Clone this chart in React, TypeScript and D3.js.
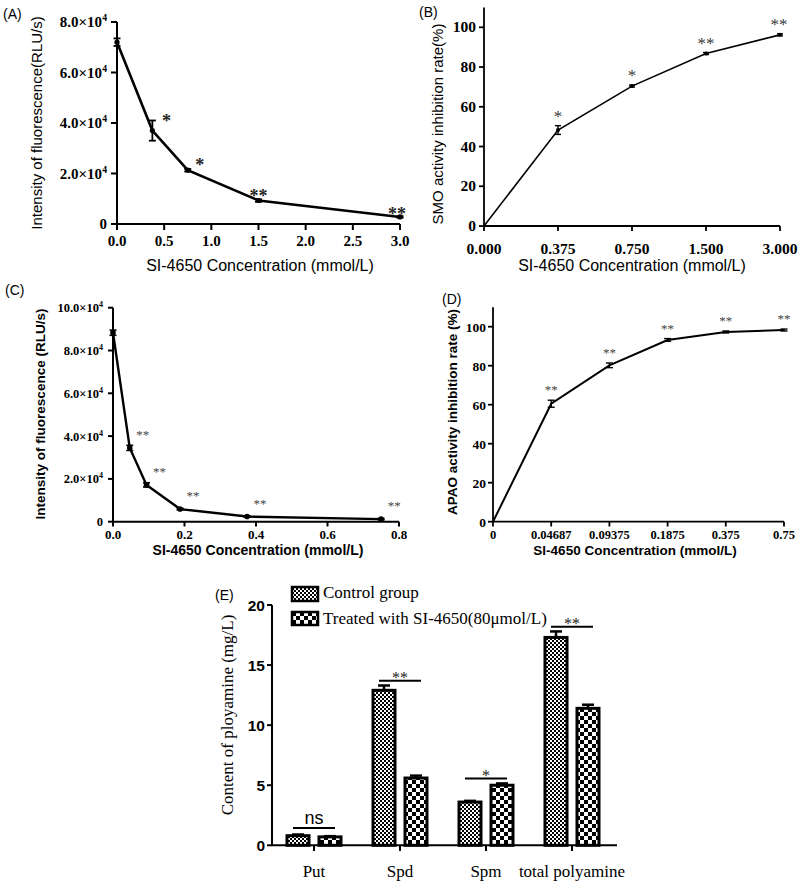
import React from "react";
import * as d3 from "d3";

// ---------- Data ----------
const concA = [0, 0.375, 0.75, 1.5, 3.0];
const fluorA = [72000, 37000, 21300, 9300, 2800];
const fluorAErr = [1500, 4000, 500, 500, 300];
const starsA = ["", "*", "*", "**", "**"];
const ticksAY = [0, 20000, 40000, 60000, 80000];
const ticksAX = [0, 0.5, 1.0, 1.5, 2.0, 2.5, 3.0];

const catsB = ["0.000", "0.375", "0.750", "1.500", "3.000"];
const inhibB = [0, 48.3, 70.4, 86.8, 96.2];
const inhibBErr = [0, 2.2, 0.5, 0.5, 0.5];
const starsB = ["", "*", "*", "**", "**"];
const ticksBY = [0, 20, 40, 60, 80, 100];

const concC = [0, 0.046875, 0.09375, 0.1875, 0.375, 0.75];
const fluorC = [88300, 34500, 17200, 5900, 2400, 1200];
const fluorCErr = [1200, 1200, 1000, 400, 300, 300];
const starsC = ["", "**", "**", "**", "**", "**"];
const ticksCY = [0, 20000, 40000, 60000, 80000, 100000];
const ticksCX = [0, 0.2, 0.4, 0.6, 0.8];

const catsD = ["0", "0.04687", "0.09375", "0.1875", "0.375", "0.75"];
const inhibD = [0, 60.5, 80.2, 93.2, 97.3, 98.3];
const inhibDErr = [0, 1.8, 1.2, 0.7, 0.5, 0.5];
const starsD = ["", "**", "**", "**", "**", "**"];
const ticksDY = [0, 20, 40, 60, 80, 100];

const groupsE = ["Put", "Spd", "Spm", "total polyamine"];
const controlE = [0.8, 12.9, 3.6, 17.3];
const controlEErr = [0.1, 0.4, 0.1, 0.5];
const treatedE = [0.7, 5.6, 5.0, 11.4];
const treatedEErr = [0.06, 0.2, 0.15, 0.3];
const sigE = ["ns", "**", "*", "**"];
const sigLevelE = [1.45, 13.7, 5.55, 18.2];
const ticksEY = [0, 5, 10, 15, 20];
const legendE = ["Control group", "Treated with SI-4650(80μmol/L)"];

const SANS = "'Liberation Sans', Arial, sans-serif";
const SERIF = "'Liberation Serif', 'Times New Roman', serif";

function sciLabel(v: number, size: number) {
  if (v === 0) return <tspan>0</tspan>;
  const m = (v / 10000).toFixed(1);
  return (
    <>
      <tspan>{m + "×10"}</tspan>
      <tspan dy={-size * 0.4} fontSize={size * 0.65}>4</tspan>
    </>
  );
}

function ErrBar({ x, y1, y2, cap, sw }: { x: number; y1: number; y2: number; cap: number; sw: number }) {
  return (
    <g stroke="#000" strokeWidth={sw}>
      <line x1={x} x2={x} y1={y1} y2={y2} />
      <line x1={x - cap} x2={x + cap} y1={y1} y2={y1} />
      <line x1={x - cap} x2={x + cap} y1={y2} y2={y2} />
    </g>
  );
}

function PanelA() {
  const x = d3.scaleLinear().domain([0, 3]).range([117, 400]);
  const y = d3.scaleLinear().domain([0, 80000]).range([224, 22]);
  const line = d3.line<number>().x((_, i) => x(concA[i])).y((d) => y(d));
  const starPos = [
    [0, 0],
    [14, -3],
    [12, -8],
    [0, -7],
    [-3, -6],
  ];
  return (
    <g>
      <text x={3} y={19} fontFamily={SANS} fontSize={14}>(A)</text>
      <line x1={117} x2={117} y1={y(80000)} y2={224} stroke="#000" strokeWidth={2} />
      <line x1={117} x2={400} y1={224} y2={224} stroke="#000" strokeWidth={2} />
      {ticksAY.map((t) => (
        <g key={t}>
          <line x1={111} x2={117} y1={y(t)} y2={y(t)} stroke="#000" strokeWidth={2} />
          <text x={107} y={y(t) + 5} textAnchor="end" fontFamily={SERIF} fontWeight="bold" fontSize={15}>
            {sciLabel(t, 15)}
          </text>
        </g>
      ))}
      {ticksAX.map((t) => (
        <g key={t}>
          <line x1={x(t)} x2={x(t)} y1={224} y2={230} stroke="#000" strokeWidth={2} />
          <text x={x(t)} y={246} textAnchor="middle" fontFamily={SERIF} fontWeight="bold" fontSize={15}>
            {t.toFixed(1)}
          </text>
        </g>
      ))}
      <path d={line(fluorA) || ""} fill="none" stroke="#000" strokeWidth={2.6} />
      {fluorA.map((v, i) => (
        <g key={i}>
          <ErrBar x={x(concA[i])} y1={y(v + fluorAErr[i])} y2={y(v - fluorAErr[i])} cap={3.5} sw={1.8} />
          <circle cx={x(concA[i])} cy={y(v)} r={2.6} fill="#000" />
          {starsA[i] && (
            <text
              x={x(concA[i]) + starPos[i][0]}
              y={y(v + fluorAErr[i]) + starPos[i][1] + 10}
              textAnchor="middle"
              fontFamily={SERIF}
              fontWeight="bold"
              fontSize={18}
              fill="#222"
            >
              {starsA[i]}
            </text>
          )}
        </g>
      ))}
      <text
        transform={`translate(42,${123}) rotate(-90)`}
        textAnchor="middle"
        fontFamily={SANS}
        fontSize={15}
      >
        Intensity of fluorescence(RLU/s)
      </text>
      <text x={260} y={271} textAnchor="middle" fontFamily={SANS} fontSize={16}>
        SI-4650 Concentration (mmol/L)
      </text>
    </g>
  );
}

function PanelB() {
  const x = d3.scalePoint<string>().domain(catsB).range([484, 780]);
  const y = d3.scaleLinear().domain([0, 100]).range([226, 27.3]);
  const line = d3.line<number>().x((_, i) => x(catsB[i]) as number).y((d) => y(d));
  return (
    <g>
      <text x={419} y={17} fontFamily={SANS} fontSize={14}>(B)</text>
      <line x1={484} x2={484} y1={y(110)} y2={226} stroke="#000" strokeWidth={1.8} />
      <line x1={484} x2={780} y1={226} y2={226} stroke="#000" strokeWidth={1.8} />
      {ticksBY.map((t) => (
        <g key={t}>
          <line x1={479} x2={484} y1={y(t)} y2={y(t)} stroke="#000" strokeWidth={1.8} />
          <text x={476} y={y(t) + 5} textAnchor="end" fontFamily={SERIF} fontWeight="bold" fontSize={15.5}>
            {t}
          </text>
        </g>
      ))}
      {catsB.map((c) => (
        <g key={c}>
          <line x1={x(c)} x2={x(c)} y1={226} y2={231} stroke="#000" strokeWidth={1.8} />
          <text x={x(c)} y={254} textAnchor="middle" fontFamily={SERIF} fontWeight="bold" fontSize={15.5}>
            {c}
          </text>
        </g>
      ))}
      <path d={line(inhibB) || ""} fill="none" stroke="#000" strokeWidth={1.6} />
      {inhibB.map((v, i) => (
        <g key={i}>
          {inhibBErr[i] > 0 && (
            <ErrBar x={x(catsB[i]) as number} y1={y(v + inhibBErr[i])} y2={y(v - inhibBErr[i])} cap={3} sw={1.4} />
          )}
          {i > 0 && <circle cx={x(catsB[i])} cy={y(v)} r={2} fill="#000" />}
          {starsB[i] && (
            <text
              x={(x(catsB[i]) as number) + (i === 4 ? -1 : 0)}
              y={y(v + inhibBErr[i]) - 4}
              textAnchor="middle"
              fontFamily={SERIF}
              fontSize={17}
              fill="#3a3a3a"
            >
              {starsB[i]}
            </text>
          )}
        </g>
      ))}
      <text
        transform={`translate(443,${124}) rotate(-90)`}
        textAnchor="middle"
        fontFamily={SANS}
        fontSize={15}
      >
        SMO activity inhibition rate(%)
      </text>
      <text x={632} y={271} textAnchor="middle" fontFamily={SANS} fontSize={16}>
        SI-4650 Concentration (mmol/L)
      </text>
    </g>
  );
}

function PanelC() {
  const x = d3.scaleLinear().domain([0, 0.8]).range([113, 399]);
  const y = d3.scaleLinear().domain([0, 100000]).range([521.7, 307.7]);
  const line = d3.line<number>().x((_, i) => x(concC[i])).y((d) => y(d));
  return (
    <g>
      <text x={5} y={295} fontFamily={SANS} fontSize={14}>(C)</text>
      <line x1={113} x2={113} y1={y(100000)} y2={521.7} stroke="#000" strokeWidth={2} />
      <line x1={113} x2={399} y1={521.7} y2={521.7} stroke="#000" strokeWidth={2} />
      {ticksCY.map((t) => (
        <g key={t}>
          <line x1={108} x2={113} y1={y(t)} y2={y(t)} stroke="#000" strokeWidth={2} />
          <text x={103} y={y(t) + 4.5} textAnchor="end" fontFamily={SERIF} fontWeight="bold" fontSize={12.5}>
            {sciLabel(t, 12.5)}
          </text>
        </g>
      ))}
      {ticksCX.map((t) => (
        <g key={t}>
          <line x1={x(t)} x2={x(t)} y1={521.7} y2={526.5} stroke="#000" strokeWidth={2} />
          <text x={x(t)} y={538.5} textAnchor="middle" fontFamily={SERIF} fontWeight="bold" fontSize={13}>
            {t.toFixed(1)}
          </text>
        </g>
      ))}
      <path d={line(fluorC) || ""} fill="none" stroke="#000" strokeWidth={2.4} />
      {fluorC.map((v, i) => (
        <g key={i}>
          <ErrBar x={x(concC[i])} y1={y(v + fluorCErr[i])} y2={y(v - fluorCErr[i])} cap={3.5} sw={1.6} />
          <circle cx={x(concC[i])} cy={y(v)} r={2.8} fill="#000" />
          {starsC[i] && (
            <text
              x={x(concC[i]) + 13}
              y={y(v) - 9}
              textAnchor="middle"
              fontFamily={SERIF}
              fontSize={13}
              fill="#444"
            >
              {starsC[i]}
            </text>
          )}
        </g>
      ))}
      <text
        transform={`translate(45,${414}) rotate(-90)`}
        textAnchor="middle"
        fontFamily={SANS}
        fontWeight="bold"
        fontSize={13.5}
      >
        Intensity of fluorescence (RLU/s)
      </text>
      <text x={258} y={555} textAnchor="middle" fontFamily={SANS} fontWeight="bold" fontSize={14}>
        SI-4650 Concentration (mmol/L)
      </text>
    </g>
  );
}

function PanelD() {
  const x = d3.scalePoint<string>().domain(catsD).range([493, 784]);
  const y = d3.scaleLinear().domain([0, 100]).range([521.7, 326.7]);
  const line = d3.line<number>().x((_, i) => x(catsD[i]) as number).y((d) => y(d));
  return (
    <g>
      <text x={442} y={304} fontFamily={SANS} fontSize={14}>(D)</text>
      <line x1={493} x2={493} y1={y(110)} y2={521.7} stroke="#000" strokeWidth={1.8} />
      <line x1={493} x2={784} y1={521.7} y2={521.7} stroke="#000" strokeWidth={1.8} />
      {ticksDY.map((t) => (
        <g key={t}>
          <line x1={488} x2={493} y1={y(t)} y2={y(t)} stroke="#000" strokeWidth={1.8} />
          <text x={486} y={y(t) + 5} textAnchor="end" fontFamily={SERIF} fontWeight="bold" fontSize={13.5}>
            {t}
          </text>
        </g>
      ))}
      {catsD.map((c) => (
        <g key={c}>
          <line x1={x(c)} x2={x(c)} y1={521.7} y2={526.5} stroke="#000" strokeWidth={1.8} />
          <text x={x(c)} y={538.5} textAnchor="middle" fontFamily={SERIF} fontWeight="bold" fontSize={12.5}>
            {c}
          </text>
        </g>
      ))}
      <path d={line(inhibD) || ""} fill="none" stroke="#000" strokeWidth={2} />
      {inhibD.map((v, i) => (
        <g key={i}>
          {inhibDErr[i] > 0 && (
            <ErrBar x={x(catsD[i]) as number} y1={y(v + inhibDErr[i])} y2={y(v - inhibDErr[i])} cap={3.5} sw={1.4} />
          )}
          {starsD[i] && (
            <text
              x={x(catsD[i]) as number}
              y={y(v + inhibDErr[i]) - 6}
              textAnchor="middle"
              fontFamily={SERIF}
              fontSize={13}
              fill="#444"
            >
              {starsD[i]}
            </text>
          )}
        </g>
      ))}
      <text
        transform={`translate(457,${412}) rotate(-90)`}
        textAnchor="middle"
        fontFamily={SANS}
        fontWeight="bold"
        fontSize={13.5}
      >
        APAO activity inhibition rate (%)
      </text>
      <text x={635} y={555} textAnchor="middle" fontFamily={SANS} fontWeight="bold" fontSize={13.5}>
        SI-4650 Concentration (mmol/L)
      </text>
    </g>
  );
}

function PanelE() {
  const xg = d3.scalePoint<string>().domain(groupsE).range([314, 572]);
  const y = d3.scaleLinear().domain([0, 20]).range([845.3, 605]);
  const bw = 22;
  const off = 16;
  const series = [
    { vals: controlE, errs: controlEErr, fill: "url(#patFine)", dx: -off },
    { vals: treatedE, errs: treatedEErr, fill: "url(#patCoarse)", dx: off },
  ];
  return (
    <g>
      <defs>
        <pattern id="patFine" width={4} height={4} patternUnits="userSpaceOnUse">
          <rect width={4} height={4} fill="#fff" />
          <rect width={2} height={2} fill="#000" />
          <rect x={2} y={2} width={2} height={2} fill="#000" />
        </pattern>
        <pattern id="patCoarse" width={8} height={8} patternUnits="userSpaceOnUse">
          <rect width={8} height={8} fill="#fff" />
          <rect width={4} height={4} fill="#000" />
          <rect x={4} y={4} width={4} height={4} fill="#000" />
        </pattern>
      </defs>
      <text x={215} y={600} fontFamily={SANS} fontSize={14}>(E)</text>
      <line x1={272} x2={272} y1={605} y2={845.3} stroke="#000" strokeWidth={2} />
      <line x1={272} x2={617} y1={845.3} y2={845.3} stroke="#000" strokeWidth={2} />
      {ticksEY.map((t) => (
        <g key={t}>
          <line x1={267} x2={272} y1={y(t)} y2={y(t)} stroke="#000" strokeWidth={2} />
          <text x={265} y={y(t) + 5.5} textAnchor="end" fontFamily={SANS} fontWeight="bold" fontSize={15.5}>
            {t}
          </text>
        </g>
      ))}
      {groupsE.map((g) => (
        <g key={g}>
          <line x1={xg(g)} x2={xg(g)} y1={845.3} y2={851} stroke="#000" strokeWidth={2} />
          <text x={xg(g)} y={877} textAnchor="middle" fontFamily={SERIF} fontSize={17}>
            {g}
          </text>
        </g>
      ))}
      {series.map((s, si) =>
        groupsE.map((g, i) => {
          const cx = (xg(g) as number) + s.dx;
          const top = y(s.vals[i]);
          return (
            <g key={`${si}-${i}`}>
              <line x1={cx} x2={cx} y1={y(s.vals[i] + s.errs[i])} y2={top} stroke="#000" strokeWidth={2.5} />
              <line x1={cx - 6} x2={cx + 6} y1={y(s.vals[i] + s.errs[i])} y2={y(s.vals[i] + s.errs[i])} stroke="#000" strokeWidth={2.5} />
              <rect
                x={cx - bw / 2}
                y={top}
                width={bw}
                height={845.3 - top}
                fill={s.fill}
                stroke="#000"
                strokeWidth={3}
              />
            </g>
          );
        })
      )}
      {groupsE.map((g, i) => {
        const cx = xg(g) as number;
        const ly = y(sigLevelE[i]);
        return (
          <g key={`sig-${g}`}>
            <line x1={cx - 21} x2={cx + 21} y1={ly} y2={ly} stroke="#000" strokeWidth={2} />
            {sigE[i] === "ns" ? (
              <text x={cx} y={ly - 4} textAnchor="middle" fontFamily={SANS} fontSize={18}>
                ns
              </text>
            ) : (
              <text x={cx} y={ly + 2} textAnchor="middle" fontFamily={SERIF} fontSize={16} fill="#222">
                {sigE[i]}
              </text>
            )}
          </g>
        );
      })}
      <rect x={292} y={587} width={26} height={14} fill="url(#patFine)" stroke="#000" strokeWidth={2.5} />
      <text x={323} y={598} fontFamily={SERIF} fontSize={17}>{legendE[0]}</text>
      <rect x={292} y={612} width={26} height={13} fill="url(#patCoarse)" stroke="#000" strokeWidth={2.5} />
      <text x={323} y={624} fontFamily={SERIF} fontSize={17}>{legendE[1]}</text>
      <text
        transform={`translate(233,${715}) rotate(-90)`}
        textAnchor="middle"
        fontFamily={SERIF}
        fontSize={17}
      >
        Content of ployamine (mg/L)
      </text>
    </g>
  );
}

export default function App() {
  return (
    <svg
      width={800}
      height={883}
      style={{ position: "absolute", left: 0, top: 0, background: "#fff", opacity: 0.999 }}
    >
      <rect width={800} height={883} fill="#fff" />
      <PanelA />
      <PanelB />
      <PanelC />
      <PanelD />
      <PanelE />
    </svg>
  );
}
